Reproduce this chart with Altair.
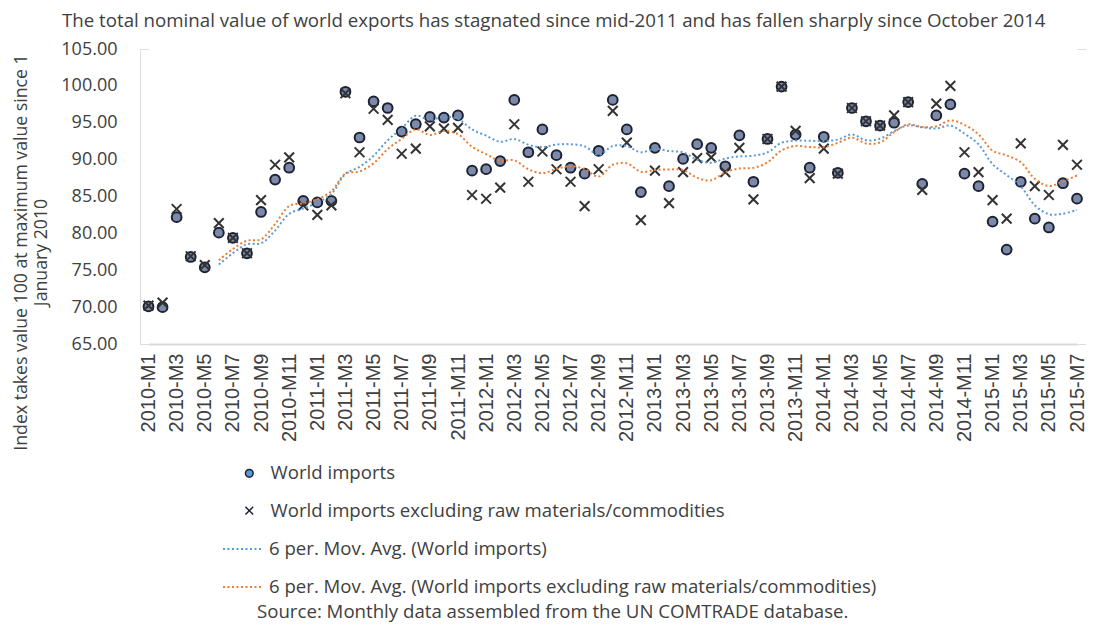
import altair as alt
import pandas as pd

# ---- data ----
months = [f"{2010 + i // 12}-M{i % 12 + 1}" for i in range(67)]

world_imports = [
    70.1, 70.0, 82.2, 76.8, 75.4, 80.1, 79.4, 77.3, 82.9, 87.3, 88.9, 84.4,
    84.2, 84.4, 99.2, 93.0, 97.9, 97.0, 93.8, 94.8, 95.8, 95.7, 96.0, 88.5,
    88.7, 89.8, 98.1, 91.0, 94.1, 90.6, 88.9, 88.1, 91.2, 98.1, 94.1, 85.6,
    91.6, 86.4, 90.1, 92.1, 91.6, 89.1, 93.3, 87.0, 92.8, 99.9, 93.4, 88.9,
    93.1, 88.2, 97.0, 95.2, 94.6, 95.0, 97.8, 86.7, 96.0, 97.5, 88.1, 86.4,
    81.6, 77.8, 87.0, 82.0, 80.8, 86.8, 84.7,
]
world_imports_excl = [
    70.2, 70.6, 83.3, 76.9, 75.7, 81.4, 79.4, 77.3, 84.5, 89.3, 90.3, 83.8,
    82.5, 83.8, 99.0, 91.0, 96.9, 95.4, 90.8, 91.5, 94.5, 94.2, 94.3, 85.2,
    84.7, 86.2, 94.8, 87.0, 91.1, 88.7, 87.0, 83.7, 88.7, 96.6, 92.3, 81.8,
    88.5, 84.1, 88.3, 90.2, 90.3, 88.3, 91.6, 84.6, 92.8, 99.9, 93.9, 87.5,
    91.5, 88.1, 97.0, 95.2, 94.6, 96.0, 97.8, 85.9, 97.6, 100.0, 91.0, 88.3,
    84.5, 82.0, 92.2, 86.4, 85.2, 92.0, 89.3,
]
y_ticks = [65, 70, 75, 80, 85, 90, 95, 100, 105]

S1 = "World imports"
S2 = "World imports excluding raw materials/commodities"
M1 = "6 per. Mov. Avg. (World imports)"
M2 = "6 per. Mov. Avg. (World imports excluding raw materials/commodities)"

rows = []
for i, m in enumerate(months):
    rows.append({"idx": i, "month": m, "series": S1, "ma_series": M1, "value": world_imports[i]})
    rows.append({"idx": i, "month": m, "series": S2, "ma_series": M2, "value": world_imports_excl[i]})
df = pd.DataFrame(rows)

FONT = "Open Sans"
TXT = "#404040"
XPATH = "M-1,-1L1,1M-1,1L1,-1"

x_enc = alt.X(
    "month:O",
    sort=months,
    scale=alt.Scale(type="point", range=[8.5, 937], padding=0),
    axis=alt.Axis(
        values=months[::2], labelAngle=-90, title=None, labelFont="Liberation Sans",
        labelFontSize=20, labelColor=TXT, labelPadding=9, ticks=False,
        domainColor="#d9d9d9", domainWidth=2, grid=False, labelOverlap=False,
    ),
)
y_scale = alt.Scale(domain=[65, 105], nice=False, zero=False)
y_axis = alt.Axis(
    values=y_ticks, format=".2f", labelOverlap=False,
    title=["Index takes value 100 at maximum value since 1", "January 2010"],
    titleFont=FONT, titleFontSize=17.7, titleFontWeight="normal", titleColor=TXT,
    titleLineHeight=20, titlePadding=10, titleY=203,
    labelFont=FONT, labelFontSize=18, labelColor=TXT, labelPadding=23,
    ticks=False, domain=False, gridColor="white", gridWidth=1.5,
)

base = alt.Chart(df)

points = base.mark_point(filled=True, size=95, strokeWidth=2, opacity=1).encode(
    x=x_enc,
    y=alt.Y("value:Q", scale=y_scale, axis=y_axis),
    shape=alt.Shape("series:N", scale=alt.Scale(domain=[S1, S2], range=["circle", XPATH]),
                    legend=alt.Legend(orient="none", legendX=100, legendY=415, title=None,
                                      padding=0, rowPadding=18.4, labelOffset=12,
                                      labelFont=FONT, labelFontSize=18.6, labelColor=TXT,
                                      symbolSize=60, symbolFillColor="#5b9bd5",
                                      symbolStrokeColor="#1c2233", symbolStrokeWidth=1.5,
                                      labelLimit=800)),
    fill=alt.Fill("series:N", scale=alt.Scale(domain=[S1, S2], range=["#7c89a8", "#333333"]),
                  legend=None),
    stroke=alt.Stroke("series:N", scale=alt.Scale(domain=[S1, S2], range=["#1c2233", "#333333"]),
                      legend=None),
)

ma = base.transform_window(
    ma="mean(value)", cnt="count()", frame=[-5, 0], sort=[{"field": "idx"}], groupby=["ma_series"]
).transform_filter("datum.cnt >= 6").mark_line(
    strokeDash=[2, 2.5], strokeWidth=2, interpolate="catmull-rom"
).encode(
    x=x_enc,
    y=alt.Y("ma:Q", scale=y_scale, axis=y_axis),
    color=alt.Color("ma_series:N", scale=alt.Scale(domain=[M1, M2], range=["#5b9bd5", "#ed7d31"]),
                    legend=alt.Legend(orient="none", legendX=82, legendY=479, title=None,
                                      padding=0, rowPadding=7, labelOffset=5,
                                      labelFont=FONT, labelFontSize=18.6, labelColor=TXT,
                                      symbolType="stroke", symbolSize=1600,
                                      symbolDash=[2, 2.5], symbolStrokeWidth=2, labelLimit=800)),
)

source = alt.Chart(pd.DataFrame({"t": ["Source: Monthly data assembled from the UN COMTRADE database."]})).mark_text(
    align="left", baseline="middle", font=FONT, fontSize=18.65, color=TXT
).encode(text="t:N", x=alt.value(117), y=alt.value(563))

chart = alt.layer(points, ma, source).resolve_legend(shape="independent", color="independent").properties(
    width=946,
    height=295,
    autosize=alt.AutoSizeParams(type="none"),
    padding={"left": 132, "top": 41, "right": 0, "bottom": 281},
    title=alt.TitleParams(
        "The total nominal value of world exports has stagnated since mid-2011 and has fallen sharply since October 2014",
        anchor="start", frame="group", dx=-78, offset=9, font=FONT, fontSize=18.7,
        fontWeight="normal", color=TXT,
    ),
).configure_view(fill="#E8ECF6", stroke=None).configure(background="white")

chart.save("out.html", embed_options={"renderer": "svg", "actions": False})
